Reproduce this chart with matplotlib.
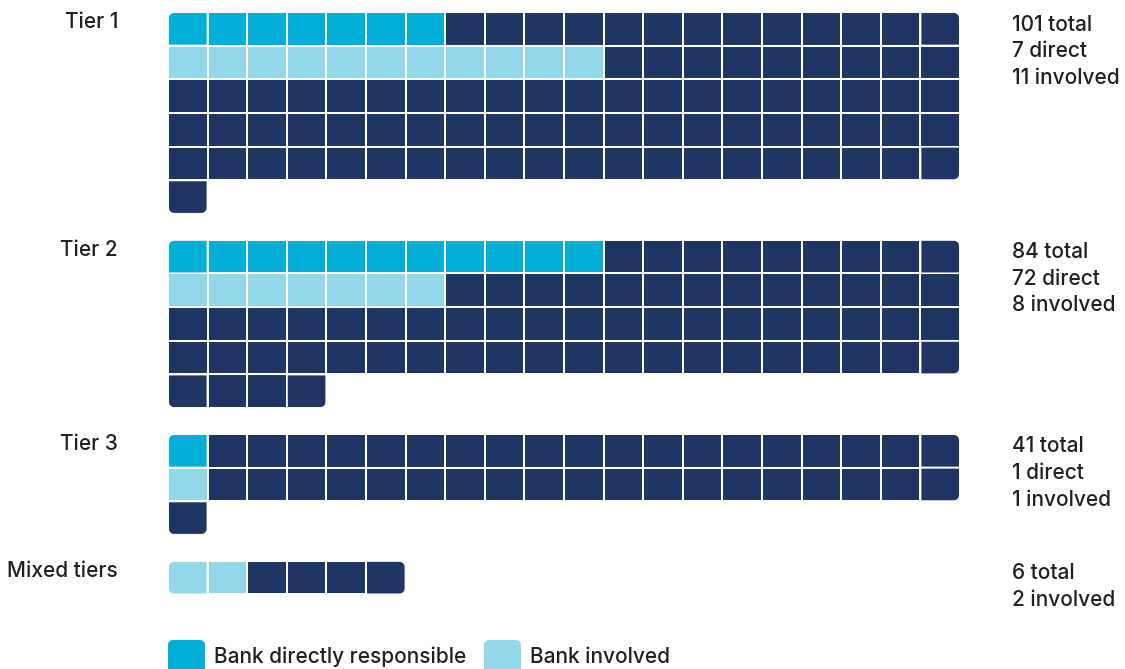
import numpy as np
import matplotlib
matplotlib.use("Agg")
import matplotlib.pyplot as plt
from matplotlib.patches import Polygon

# data
tiers = ["Tier 1", "Tier 2", "Tier 3", "Mixed tiers"]
totals = [101, 84, 41, 6]
direct_cells = [7, 11, 1, 0]
involved_cells = [11, 7, 1, 2]
notes = [["101 total", "7 direct", "11 involved"],
         ["84 total", "72 direct", "8 involved"],
         ["41 total", "1 direct", "1 involved"],
         ["6 total", "2 involved"]]
legend_labels = ["Bank directly responsible", "Bank involved"]

C_DIRECT = "#00aed8"
C_INV = "#93d7eb"
C_DARK = "#1f3664"
C_TEXT = "#231f20"
NCOL = 20
FS = 15
FW = "medium"

plt.rcParams["font.family"] = ["Inter", "DejaVu Sans"]

W, H = 1125, 669
COLW, ROWH = 39.6, 33.65      # px per cell
TOP = 12                       # px of first row
GAP = 0.77                     # rows between tiers

fig = plt.figure(figsize=(W / 100, H / 100), dpi=100)
ax = fig.add_axes([168 / W, 0, NCOL * COLW / W, 1])
ax.set_xlim(0, NCOL)
ax.set_ylim((H - TOP) / ROWH, -TOP / ROWH)
ax.axis("off")

rx, ry = 5 / COLW, 5 / ROWH
gx, gy = 1 / COLW, 1 / ROWH


def cell(x0, y0, x1, y1, rounded, n=8):
    # rounded = (top-left, top-right, bottom-right, bottom-left); y grows down
    t = np.linspace(0, np.pi / 2, n)
    pts = []
    tl, tr, br, bl = rounded
    if tl:
        cx, cy = x0 + rx, y0 + ry
        pts += list(zip(cx - rx * np.cos(t), cy - ry * np.sin(t)))
    else:
        pts.append((x0, y0))
    if tr:
        cx, cy = x1 - rx, y0 + ry
        pts += list(zip(cx + rx * np.sin(t), cy - ry * np.cos(t)))
    else:
        pts.append((x1, y0))
    if br:
        cx, cy = x1 - rx, y1 - ry
        pts += list(zip(cx + rx * np.cos(t), cy + ry * np.sin(t)))
    else:
        pts.append((x1, y1))
    if bl:
        cx, cy = x0 + rx, y1 - ry
        pts += list(zip(cx - rx * np.sin(t), cy + ry * np.cos(t)))
    else:
        pts.append((x0, y1))
    return pts


top = 0.0
for name, total, nd, ni, lines in zip(tiers, totals, direct_cells, involved_cells, notes):
    inv_row = 1 if nd > 0 else 0
    filled = set(divmod(i, NCOL) for i in range(total))
    for (r, c) in sorted(filled):
        if r == 0 and c < nd:
            col = C_DIRECT
        elif r == inv_row and c < ni:
            col = C_INV
        else:
            col = C_DARK
        up = (r - 1, c) in filled
        down = (r + 1, c) in filled
        left = (r, c - 1) in filled
        right = (r, c + 1) in filled
        rounded = (not up and not left, not up and not right,
                   not down and not right, not down and not left)
        y0 = top + r
        ax.add_patch(Polygon(cell(c + gx, y0 + gy, c + 1 - gx, y0 + 1 - gy, rounded),
                             closed=True, facecolor=col, edgecolor="none"))
    ax.text(-1.26, top + 0.49, name, ha="right", va="baseline",
            fontsize=FS, fontweight=FW, color=C_TEXT, clip_on=False)
    for k, s in enumerate(lines):
        ax.text(21.31, top + 0.55 + k * 0.79, s, ha="left", va="baseline",
                fontsize=FS, fontweight=FW, color=C_TEXT, clip_on=False)
    nrows = (total - 1) // NCOL + 1
    top += nrows + GAP

# legend
leg_top = (640 - TOP) / ROWH
leg_h = 37 / ROWH
for x0, lab, col in zip([0, (484 - 168) / COLW], legend_labels, [C_DIRECT, C_INV]):
    ax.add_patch(Polygon(cell(x0, leg_top, x0 + 37 / COLW, leg_top + leg_h, (True,) * 4),
                         closed=True, facecolor=col, edgecolor="none", clip_on=False))
    ax.text(x0 + 46 / COLW, (657 - TOP) / ROWH, lab, ha="left", va="center",
            fontsize=FS, fontweight=FW, color=C_TEXT, clip_on=False)

fig.savefig("out.png", dpi=100)
